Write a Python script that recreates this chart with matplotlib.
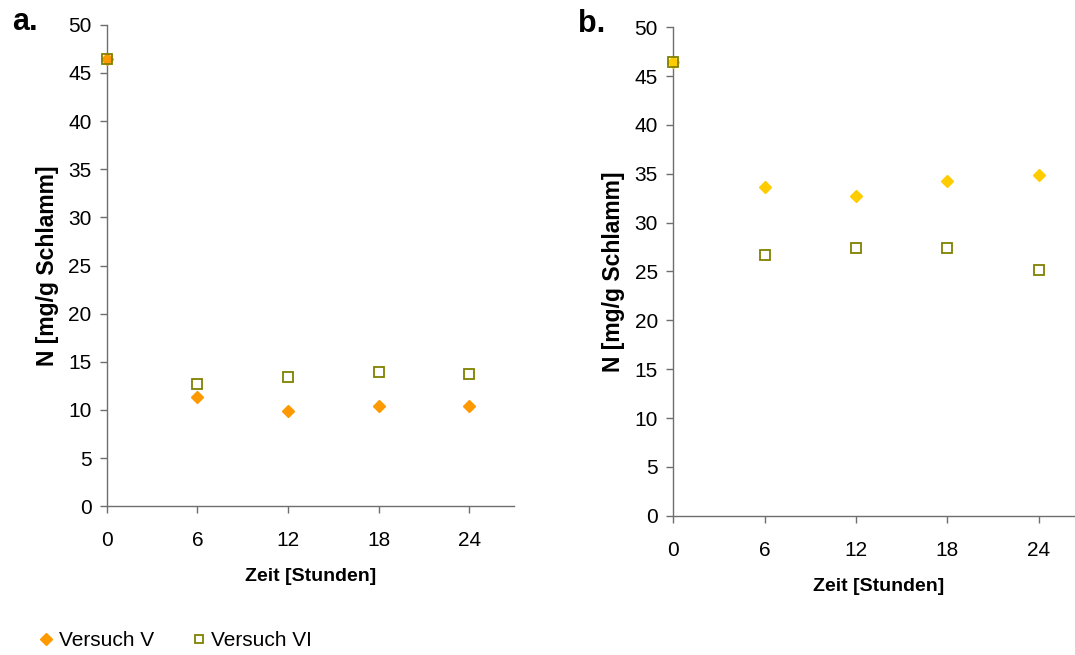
import numpy as np
import matplotlib
matplotlib.use('Agg')
import matplotlib.pyplot as plt

plt.rcParams['font.family'] = ['Liberation Sans', 'DejaVu Sans']

# Data
stunden = [0, 6, 12, 18, 24]

# a. 
a_versuch_v  = [46.4, 11.4, 9.9, 10.45, 10.45]
a_versuch_vi = [46.4, 12.7, 13.4, 13.9, 13.75]

# b.
b_versuch_v  = [46.4, 33.6, 32.75, 34.3, 34.85]
b_versuch_vi = [46.4, 26.7, 27.4, 27.4, 25.2]

xticks = [0, 6, 12, 18, 24]
yticks = np.arange(0, 51, 5)

col_v_a = '#FF9900'
col_v_b = '#FFCC00'
col_vi  = '#808000'
spine_c = '#6e6e6e'

fig = plt.figure(figsize=(10.75, 6.55), dpi=100)

ax1 = fig.add_axes([0.0993, 0.2270, 0.3792, 0.7353])
ax2 = fig.add_axes([0.6263, 0.2127, 0.3825, 0.7456])


def format_axis(ax):
    ax.set_xlim(0, 27)
    ax.set_ylim(0, 50)
    ax.set_xticks(xticks)
    ax.set_yticks(yticks)
    for s in ['top', 'right']:
        ax.spines[s].set_visible(False)
    for s in ['left', 'bottom']:
        ax.spines[s].set_color(spine_c)
        ax.spines[s].set_linewidth(1.0)
    ax.tick_params(axis='both', colors=spine_c, labelcolor='black',
                   labelsize=15, length=5, width=1.0)
    ax.tick_params(axis='x', pad=13)
    ax.tick_params(axis='y', pad=6)
    ax.set_xlabel('Zeit [Stunden]', fontsize=14, fontweight='bold')
    ax.set_ylabel('N [mg/g Schlamm]', fontsize=16.5, fontweight='bold')
    ax.xaxis.set_label_coords(0.5, -0.128)
    ax.yaxis.set_label_coords(-0.117, 0.5)


# a.
ax1.plot(stunden, a_versuch_v, 'D', color=col_v_a, ms=6.5, mec=col_v_a,
         ls='none', clip_on=False, label='Versuch V', zorder=3)
ax1.plot(stunden, a_versuch_vi, 's', mfc='none', mec=col_vi, ms=6.5, mew=1.3,
         ls='none', clip_on=False, label='Versuch VI', zorder=4)
format_axis(ax1)

# b.
ax2.plot(stunden, b_versuch_v, 'D', color=col_v_b, ms=6.5, mec=col_v_b,
         ls='none', clip_on=False, zorder=3)
ax2.plot(stunden, b_versuch_vi, 's', mfc='none', mec=col_vi, ms=6.5, mew=1.3,
         ls='none', clip_on=False, zorder=4)
format_axis(ax2)

fig.text(12/1075, 1-30/655, 'a.', fontsize=22, fontweight='bold', va='baseline')
fig.text(578/1075, 1-32/655, 'b.', fontsize=22, fontweight='bold', va='baseline')

h, l = ax1.get_legend_handles_labels()
fig.legend(h, l, loc='center left', bbox_to_anchor=(19/1075, 1-641/655),
           ncol=2, frameon=False, fontsize=15, handlelength=0.8,
           handletextpad=0.2, columnspacing=1.75, markerscale=0.95)

fig.savefig('out.png', dpi=100)
